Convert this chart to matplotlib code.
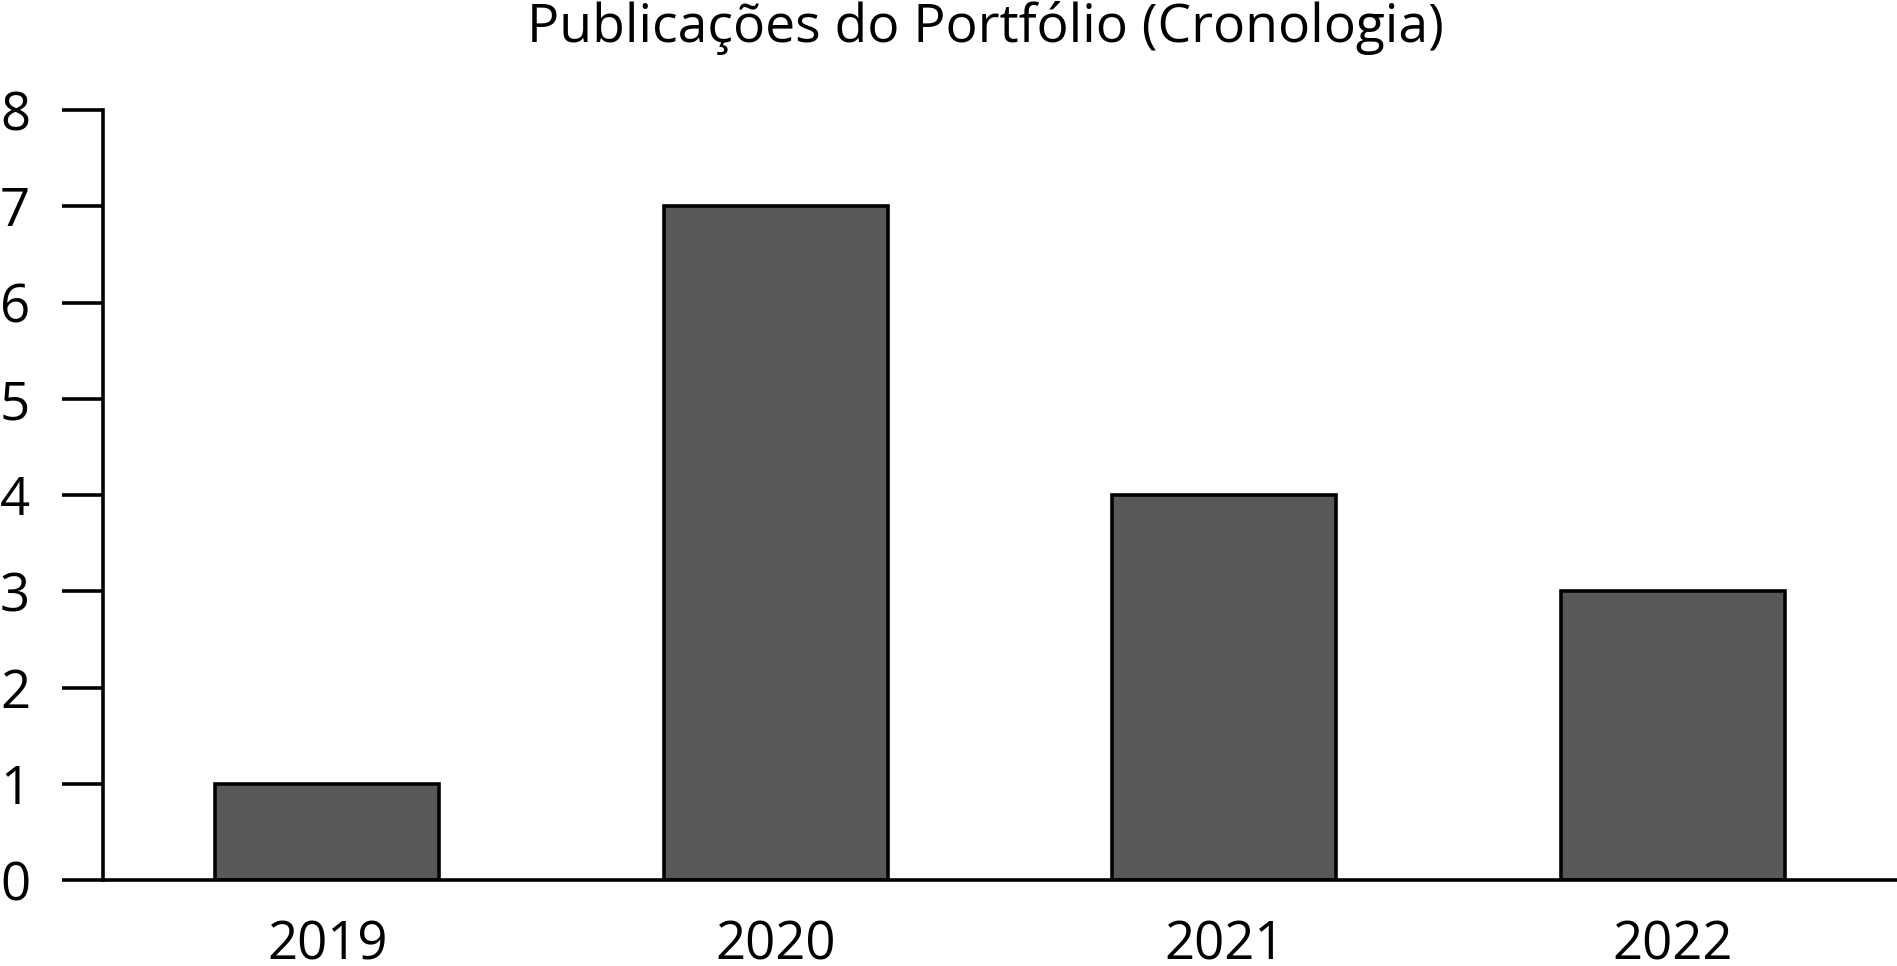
import matplotlib
matplotlib.use("Agg")
import matplotlib.pyplot as plt

years = ["2019", "2020", "2021", "2022"]
publications = [1, 7, 4, 3]
y_ticks = [0, 1, 2, 3, 4, 5, 6, 7, 8]
title = "Publicações do Portfólio (Cronologia)"

plt.rcParams['font.family'] = ['Open Sans', 'DejaVu Sans']

W, H = 1897, 966
fig = plt.figure(figsize=(W / 100, H / 100), dpi=100)
ax = fig.add_axes([103 / W, (H - 880) / H, (W - 103) / W, (880 - 110) / H])

x = range(len(years))
ax.bar(x, publications, width=0.5, color="#58585a", edgecolor="black", linewidth=2.6)
ax.set_xlim(-0.5, 3.5)
ax.set_ylim(0, 8)
ax.set_xticks(list(x))
ax.set_xticklabels(years)
ax.set_yticks(y_ticks)

for s in ["top", "right"]:
    ax.spines[s].set_visible(False)
for s in ["left", "bottom"]:
    ax.spines[s].set_linewidth(2.6)

ax.tick_params(axis="y", length=29.5, width=2.6, pad=23, labelsize=38)
ax.tick_params(axis="x", length=0, pad=28, labelsize=38)

fig.text(985 / W, 1 - 42 / H, title, ha="center", va="baseline", fontsize=38.5)

fig.savefig("out.png", dpi=100)
